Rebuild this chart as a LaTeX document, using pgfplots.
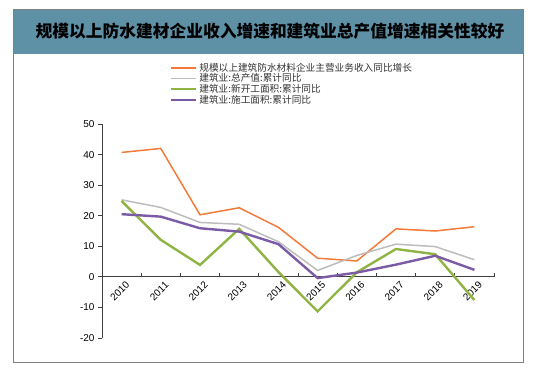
\documentclass[border=0pt]{standalone}
\usepackage{pgfplots}
\pgfplotsset{compat=1.18}
\usepackage{fontspec}
\setmainfont{Liberation Sans}
\newfontfamily\cjk{Noto Sans CJK SC}
\definecolor{cOrange}{HTML}{F47A38}
\definecolor{cGray}{HTML}{BDBDBD}
\definecolor{cGreen}{HTML}{8FB443}
\definecolor{cPurple}{HTML}{7B5BA6}
\definecolor{titlebar}{HTML}{5E90A6}
\begin{document}
\begin{tikzpicture}[x=1bp,y=1bp]
\useasboundingbox (0,0) rectangle (538,373);
\fill[white] (0,0) rectangle (538,373);
\fill[titlebar] (13,319) rectangle (523,364);
\draw[black!50, line width=0.8bp] (13,11) rectangle (523,364);
\node[font=\cjk\bfseries\fontsize{16.8}{18}\selectfont, text=black] at (270,341.5) {规模以上防水建材企业收入增速和建筑业总产值增速相关性较好};
\begin{axis}[
  at={(102bp,35bp)}, anchor=south west,
  scale only axis, width=392bp, height=214bp,
  xmin=-0.5, xmax=9.5, ymin=-20, ymax=50,
  axis y line=left, axis x line=middle,
  axis line style={-, black!75, line width=0.8bp},
  xtick={-0.5,0.5,...,9.5}, xticklabels={},
  x tick style={black!75, line width=0.8bp},
  xtick align=inside, major tick length=4bp,
  extra x ticks={0,1,...,9},
  extra x tick labels={2010,2011,2012,2013,2014,2015,2016,2017,2018,2019},
  extra x tick style={major tick length=0pt, x tick label style={rotate=45, anchor=east, font=\fontsize{10}{12}\selectfont, xshift=3bp, yshift=-9bp}},
  ytick={-20,-10,...,50},
  y tick style={black!75, line width=0.8bp},
  ytick align=outside,
  y tick label style={font=\fontsize{10}{12}\selectfont},
  /pgf/number format/assume math mode=true,
  clip=false,
  legend style={at={(0.173,1.295)}, anchor=north west, draw=none, fill=none,
    font=\cjk\fontsize{9.7}{10}\selectfont, text=black!80, inner sep=0pt, row sep=-3bp,
    /tikz/every even column/.append style={column sep=2bp}},
  legend cell align=left,
  legend image code/.code={\draw[#1] (0bp,0bp) -- (25bp,0bp);},
]
\addplot[cOrange, line width=1.5bp] coordinates {(0,40.7) (1,42.0) (2,20.3) (3,22.6) (4,16.2) (5,6.1) (6,5.2) (7,15.7) (8,15.0) (9,16.4)};
\addlegendentry{规模以上建筑防水材料企业主营业务收入同比增长}
\addplot[cGray, line width=1.5bp] coordinates {(0,25.2) (1,22.7) (2,17.8) (3,17.2) (4,11.5) (5,2.1) (6,7.0) (7,10.7) (8,9.9) (9,5.6)};
\addlegendentry{建筑业:总产值:累计同比}
\addplot[cGreen, line width=2.4bp] coordinates {(0,24.8) (1,12.1) (2,3.9) (3,15.7) (4,1.6) (5,-11.3) (6,1.5) (7,9.1) (8,7.4) (9,-7.6)};
\addlegendentry{建筑业:新开工面积:累计同比}
\addplot[cPurple, line width=2.4bp] coordinates {(0,20.5) (1,19.7) (2,15.9) (3,14.8) (4,10.7) (5,-0.4) (6,1.4) (7,4.0) (8,6.9) (9,2.3)};
\addlegendentry{建筑业:施工面积:累计同比}
\end{axis}
\end{tikzpicture}
\end{document}
